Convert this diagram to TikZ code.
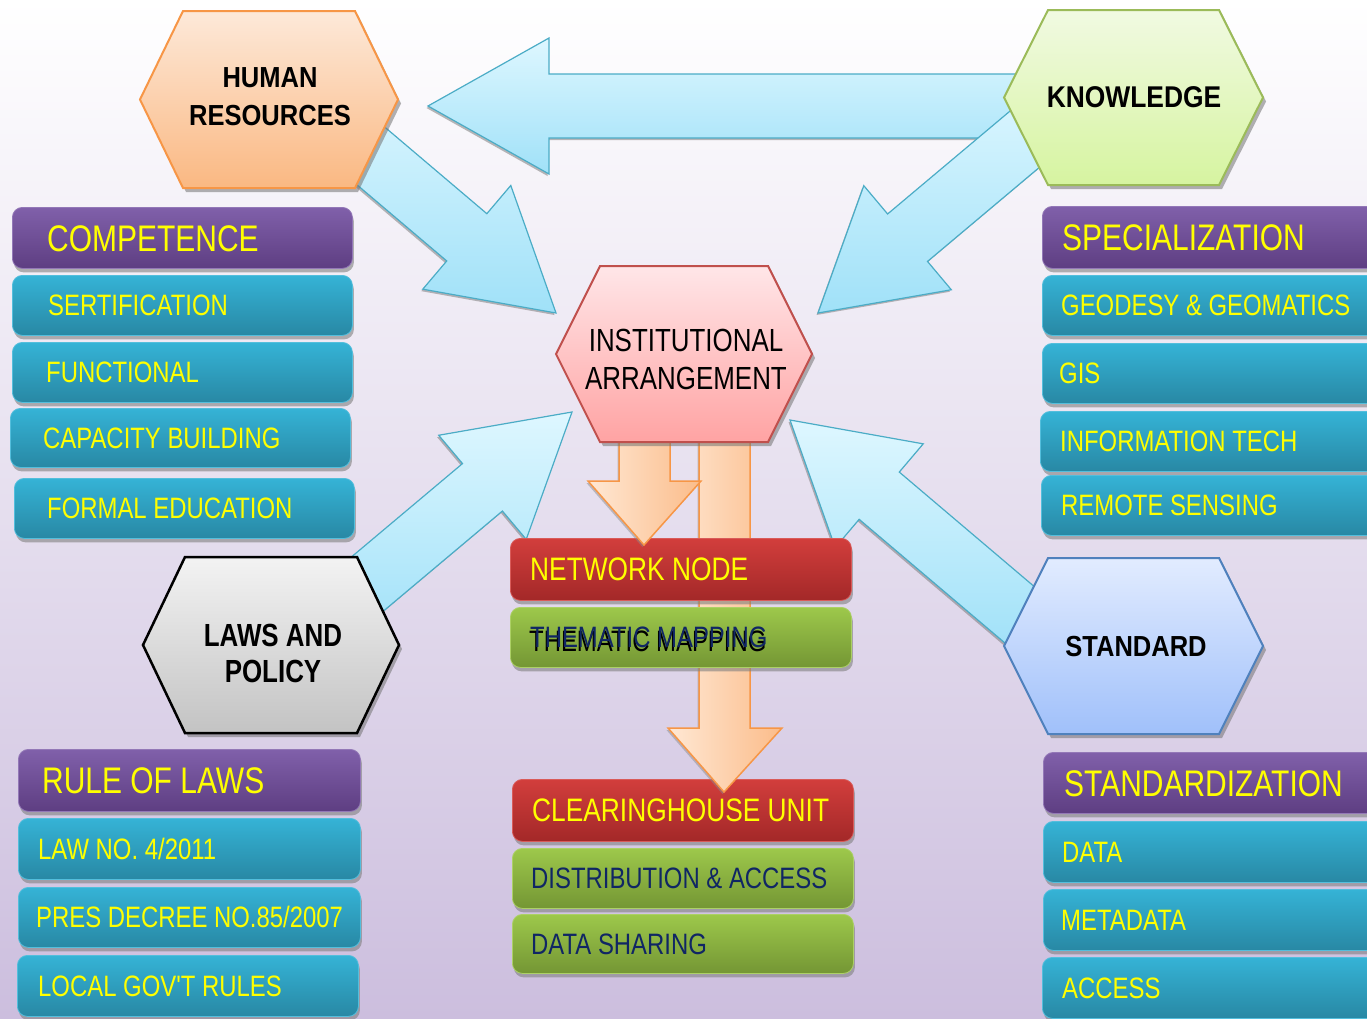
\documentclass[tikz,border=0pt]{standalone}
\usepackage{fontspec}
\setmainfont{Liberation Sans}
\newfontfamily\nfont{Liberation Sans}[FakeStretch=0.81]
\newfontfamily\hfont{Liberation Sans}[FakeStretch=0.88]
\usetikzlibrary{calc,shadows}
\definecolor{bgM}{RGB}{238,235,243}
\definecolor{bgB}{RGB}{204,190,222}
\definecolor{puT}{RGB}{128,96,170}
\definecolor{puB}{RGB}{94,62,130}
\definecolor{tlT}{RGB}{53,179,214}
\definecolor{tlB}{RGB}{40,136,164}
\definecolor{rdT}{RGB}{210,62,60}
\definecolor{rdB}{RGB}{163,40,40}
\definecolor{grT}{RGB}{157,200,75}
\definecolor{grB}{RGB}{116,150,52}
\definecolor{yel}{RGB}{255,255,0}
\definecolor{navy}{RGB}{16,38,100}
\definecolor{bluT}{RGB}{222,247,255}
\definecolor{bluB}{RGB}{160,225,248}
\definecolor{bluE}{RGB}{75,172,198}
\definecolor{orL}{RGB}{255,232,212}
\definecolor{orR}{RGB}{251,188,138}
\definecolor{orE}{RGB}{247,150,70}
\definecolor{hrT}{RGB}{253,233,217}
\definecolor{hrB}{RGB}{250,184,130}
\definecolor{knT}{RGB}{241,250,226}
\definecolor{knB}{RGB}{214,244,160}
\definecolor{knE}{RGB}{155,187,89}
\definecolor{iaT}{RGB}{255,230,232}
\definecolor{iaB}{RGB}{255,163,163}
\definecolor{iaE}{RGB}{192,80,77}
\definecolor{lpT}{RGB}{243,243,243}
\definecolor{lpB}{RGB}{195,195,195}
\definecolor{stT}{RGB}{226,236,255}
\definecolor{stB}{RGB}{160,192,250}
\definecolor{stE}{RGB}{79,129,189}
\newcommand{\fatarrow}[6]{%
  \coordinate (fa) at ($(#2)!#4!(#3)$);
  \draw[#1] (#2) -- ($(fa)!#5!90:(#2)$) -- ($(fa)!#6!90:(#2)$) -- ($(#3)!#6!90:(#2)$)
    -- ($(#3)!#6!-90:(#2)$) -- ($(fa)!#6!-90:(#2)$) -- ($(fa)!#5!-90:(#2)$) -- cycle;}
\newcommand{\hexa}[6]{%
  \draw[#1] (#2,{((#4)+(#5))/2}) -- ({(#2)+(#6)},#4) -- ({(#3)-(#6)},#4) -- (#3,{((#4)+(#5))/2})
    -- ({(#3)-(#6)},#5) -- ({(#2)+(#6)},#5) -- cycle;}
\newcommand{\bx}[9]{%
  \node[#2, minimum width={(#5)-(#3)}, minimum height={(#6)-(#4)}] (#1) at (#3,#4) {};
  \node[#7] (#1-t) at (#8,{((#4)+(#6))/2}) {#9};}
\tikzset{
  shd/.style={drop shadow={shadow xshift=1.5pt, shadow yshift=-4pt, fill=black!50, opacity=.6}},
  boxbase/.style={rounded corners=10pt, anchor=north west, inner sep=0pt, line width=0.8pt, shd},
  pbox/.style={boxbase, top color=puT, bottom color=puB, draw=puT!85!white},
  tbox/.style={boxbase, top color=tlT, bottom color=tlB, draw=tlT!85!white},
  rbox/.style={boxbase, top color=rdT, bottom color=rdB, draw=rdT!85!white},
  gbox/.style={boxbase, top color=grT, bottom color=grB, draw=grT!85!white},
  hd/.style={font=\nfont\fontsize{37}{40}\selectfont, text=yel, anchor=west, inner sep=0pt, text height=27pt, text depth=0pt},
  it/.style={font=\nfont\fontsize{29.5}{32}\selectfont, text=yel, anchor=west, inner sep=0pt, text height=21pt, text depth=0pt},
  rt/.style={font=\nfont\fontsize{32.5}{35}\selectfont, text=yel, anchor=west, inner sep=0pt, text height=23pt, text depth=0pt},
  gt/.style={it, text=navy},
  bluear/.style={draw=bluE, line width=1.2pt, top color=bluT, bottom color=bluB,
    drop shadow={shadow xshift=-1.5pt, shadow yshift=-2pt, fill=black!55, opacity=.5}},
  orar/.style={draw=orE, line width=1.5pt, left color=orL, right color=orR,
    drop shadow={shadow xshift=-1.5pt, shadow yshift=-2pt, fill=black!45, opacity=.5}},
  hexb/.style={line width=2pt, drop shadow={shadow xshift=3pt, shadow yshift=-4pt, fill=black!55, opacity=.55}},
  hexlbl/.style={align=center, inner sep=0pt, text=black},
}
\begin{document}
\begin{tikzpicture}[x=1pt,y=-1pt]
\useasboundingbox (0,0) rectangle (1367,1018);
\clip (0,0) rectangle (1367,1018);
\fill[top color=white, middle color=bgM, bottom color=bgB] (0,0) rectangle (1367,1018);

% big blue arrows
\coordinate (tipA) at (428,106); \coordinate (tailA) at (1045,106);
\coordinate (tipB) at (556,313); \coordinate (tailB) at (312,106);
\coordinate (tipC) at (818,313); \coordinate (tailC) at (1063,107);
\coordinate (tipD) at (572,412); \coordinate (tailD) at (327,618);
\coordinate (tipE) at (790,420); \coordinate (tailE) at (1034,627);
\fatarrow{bluear}{tipA}{tailA}{121pt}{68pt}{32pt}
\fatarrow{bluear}{tipB}{tailB}{117pt}{68pt}{31pt}
\fatarrow{bluear}{tipC}{tailC}{117pt}{68pt}{31pt}
\fatarrow{bluear}{tipD}{tailD}{117pt}{68pt}{31pt}
\fatarrow{bluear}{tipE}{tailE}{117pt}{68pt}{31pt}

% center column
\bx{clear}{rbox}{512}{779}{853}{841}{rt}{532}{CLEARINGHOUSE UNIT}
\bx{dist}{gbox}{512}{848}{853}{908}{gt}{531}{DISTRIBUTION \& ACCESS}
\bx{dshare}{gbox}{512}{914}{853}{973}{gt}{531}{DATA SHARING}

\draw[orar] (699,440) -- (750,440) -- (750,728) -- (782,728) -- (724,792) -- (668,728) -- (699,728) -- cycle;

\bx{netw}{rbox}{510}{538}{851}{600}{rt}{530}{NETWORK NODE}
\node[pbox, draw=none, top color=grT, bottom color=grB, draw=grT!85!white, minimum width=341, minimum height=60] (them) at (510,607) {};
\node[it, text=black] (them-s) at (529,641) {THEMATIC MAPPING};
\node[gt] (them-t) at (530,637) {THEMATIC MAPPING};

\draw[orar] (619,440) -- (670,440) -- (670,481) -- (701,481) -- (644,545) -- (588,481) -- (619,481) -- cycle;

% hexagons
\hexa{hexb, draw=orE, top color=hrT, bottom color=hrB}{140}{398}{11}{188}{43}
\node[hexlbl, font=\hfont\bfseries\fontsize{29}{38}\selectfont] (hr) at (270,97) {HUMAN\\RESOURCES};
\hexa{hexb, draw=knE, top color=knT, bottom color=knB}{1004}{1263}{10}{185}{44}
\node[hexlbl, font=\hfont\bfseries\fontsize{30}{38}\selectfont] (kn) at (1134,97) {KNOWLEDGE};
\hexa{hexb, draw=iaE, top color=iaT, bottom color=iaB}{556}{812}{266}{442}{44}
\node[hexlbl, font=\nfont\fontsize{32}{38}\selectfont] (ia) at (686,359) {INSTITUTIONAL\\ARRANGEMENT};
\hexa{hexb, draw=black, line width=2.5pt, top color=lpT, bottom color=lpB}{143}{399}{557}{733}{42}
\node[hexlbl, font=\nfont\bfseries\fontsize{32}{36}\selectfont] (lp) at (273,653) {LAWS AND\\POLICY};
\hexa{hexb, draw=stE, top color=stT, bottom color=stB}{1004}{1263}{558}{734}{44}
\node[hexlbl, font=\hfont\bfseries\fontsize{29}{36}\selectfont] (st) at (1136,647) {STANDARD};

% left column
\bx{comp}{pbox}{12}{207}{352}{268}{hd}{47}{COMPETENCE}
\bx{sert}{tbox}{12}{275}{352}{335}{it}{48}{SERTIFICATION}
\bx{func}{tbox}{12}{342}{352}{402}{it}{46}{FUNCTIONAL}
\bx{capb}{tbox}{10}{408}{350}{467}{it}{43}{CAPACITY BUILDING}
\bx{fedu}{tbox}{14}{478}{354}{538}{it}{47}{FORMAL EDUCATION}

% right column
\bx{spec}{pbox}{1042}{206}{1385}{268}{hd}{1062}{SPECIALIZATION}
\bx{geod}{tbox}{1042}{275}{1385}{335}{it}{1061}{GEODESY \& GEOMATICS}
\bx{gis}{tbox}{1042}{343}{1385}{403}{it}{1059}{GIS}
\bx{itech}{tbox}{1040}{411}{1385}{471}{it}{1060}{INFORMATION TECH}
\bx{rsens}{tbox}{1041}{475}{1385}{535}{it}{1061}{REMOTE SENSING}

% bottom left
\bx{rule}{pbox}{18}{749}{360}{811}{hd}{42}{RULE OF LAWS}
\bx{law}{tbox}{18}{818}{360}{879}{it}{38}{LAW NO. 4/2011}
\bx{pres}{tbox}{18}{887}{360}{947}{it}{36}{PRES DECREE NO.85/2007}
\bx{local}{tbox}{17}{955}{358}{1016}{it}{38}{LOCAL GOV'T RULES}

% bottom right
\bx{stdz}{pbox}{1043}{752}{1385}{813}{hd}{1064}{STANDARDIZATION}
\bx{data}{tbox}{1043}{821}{1385}{882}{it}{1062}{DATA}
\bx{meta}{tbox}{1043}{889}{1385}{950}{it}{1061}{METADATA}
\bx{acc}{tbox}{1042}{957}{1385}{1018}{it}{1062}{ACCESS}
\end{tikzpicture}
\end{document}
